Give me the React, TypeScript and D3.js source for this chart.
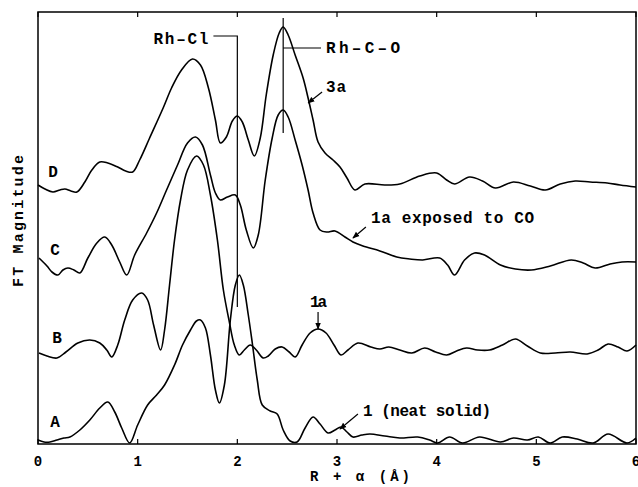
import React from "react";
import * as d3 from "d3";

const W = 638;
const H = 487;

const xTicks = [0, 1, 2, 3, 4, 5, 6];

// FT magnitude traces (R + alpha in Å, magnitude in arbitrary units incl. vertical offset)
const curveA: [number, number][] = [
  [0.0, 0.04], [0.06, 0.02], [0.12, 0.02], [0.19, 0.04], [0.26, 0.06], [0.32, 0.07],
  [0.42, 0.14], [0.52, 0.24], [0.62, 0.36], [0.7, 0.42], [0.77, 0.32], [0.84, 0.16],
  [0.92, 0.01], [1.0, 0.19], [1.1, 0.39], [1.19, 0.49], [1.27, 0.59], [1.37, 0.79],
  [1.45, 0.99], [1.53, 1.14], [1.59, 1.23], [1.63, 1.24], [1.68, 1.16], [1.73, 0.89],
  [1.78, 0.54], [1.82, 0.41], [1.87, 0.59], [1.93, 1.24], [1.98, 1.59], [2.02, 1.69],
  [2.06, 1.59], [2.11, 1.29], [2.15, 1.01], [2.2, 0.64], [2.25, 0.39], [2.33, 0.33],
  [2.4, 0.3], [2.46, 0.14], [2.53, 0.03], [2.6, 0.02], [2.68, 0.16], [2.76, 0.27],
  [2.83, 0.2], [2.91, 0.11], [2.98, 0.14], [3.04, 0.17], [3.1, 0.12], [3.16, 0.07],
  [3.25, 0.09], [3.33, 0.1], [3.48, 0.08], [3.63, 0.06], [3.81, 0.07], [3.93, 0.04],
  [4.01, 0.01], [4.13, 0.07], [4.26, 0.01], [4.43, 0.07], [4.64, 0.02], [4.77, 0.06],
  [4.91, 0.04], [5.02, 0.07], [5.14, 0.01], [5.26, 0.07], [5.41, 0.05], [5.57, 0.01],
  [5.72, 0.1], [5.91, 0.01], [6.0, 0.06],
];

const curveB: [number, number][] = [
  [0.01, 0.91], [0.09, 0.88], [0.19, 0.86], [0.28, 0.92], [0.4, 1.01], [0.52, 1.04],
  [0.62, 1.01], [0.69, 0.94], [0.74, 0.87], [0.8, 0.99], [0.87, 1.24], [0.95, 1.44],
  [1.04, 1.51], [1.1, 1.44], [1.16, 1.19], [1.23, 0.94], [1.27, 1.14], [1.32, 1.59],
  [1.37, 2.04], [1.43, 2.44], [1.5, 2.74], [1.59, 2.88], [1.66, 2.79], [1.73, 2.49],
  [1.8, 2.04], [1.86, 1.54], [1.92, 1.22], [1.97, 0.99], [2.02, 0.89], [2.07, 0.94],
  [2.13, 0.99], [2.19, 0.94], [2.26, 0.86], [2.31, 0.88], [2.38, 0.95], [2.45, 0.97],
  [2.52, 0.92], [2.58, 0.87], [2.65, 0.99], [2.73, 1.11], [2.81, 1.15], [2.89, 1.11],
  [2.97, 0.99], [3.04, 0.89], [3.11, 0.94], [3.21, 1.01], [3.34, 0.97], [3.43, 0.95],
  [3.52, 0.97], [3.63, 0.94], [3.75, 0.91], [3.88, 0.96], [3.99, 0.92], [4.1, 0.89],
  [4.2, 0.93], [4.3, 0.96], [4.41, 0.94], [4.53, 0.94], [4.66, 0.99], [4.79, 1.05],
  [4.91, 0.98], [5.04, 0.91], [5.19, 0.91], [5.34, 0.92], [5.51, 0.9], [5.62, 0.94],
  [5.72, 1.0], [5.82, 0.97], [5.91, 0.93], [6.0, 0.99],
];

const curveC: [number, number][] = [
  [0.01, 1.86], [0.09, 1.78], [0.14, 1.72], [0.2, 1.69], [0.25, 1.74], [0.3, 1.76],
  [0.36, 1.74], [0.42, 1.71], [0.5, 1.86], [0.59, 2.01], [0.67, 2.07], [0.74, 1.99],
  [0.82, 1.82], [0.89, 1.69], [0.97, 1.89], [1.09, 2.11], [1.19, 2.31], [1.29, 2.54],
  [1.4, 2.79], [1.5, 3.01], [1.58, 3.07], [1.65, 2.99], [1.73, 2.69], [1.78, 2.51],
  [1.83, 2.44], [1.9, 2.47], [1.98, 2.49], [2.03, 2.39], [2.09, 2.14], [2.16, 1.96],
  [2.21, 2.09], [2.28, 2.64], [2.35, 3.06], [2.41, 3.29], [2.46, 3.34], [2.51, 3.27],
  [2.58, 3.04], [2.65, 2.79], [2.71, 2.54], [2.76, 2.31], [2.83, 2.14], [2.9, 2.12],
  [2.98, 2.13], [3.08, 2.07], [3.16, 2.02], [3.26, 1.98], [3.43, 1.93], [3.6, 1.87],
  [3.73, 1.85], [3.86, 1.84], [4.03, 1.86], [4.11, 1.79], [4.18, 1.69], [4.28, 1.84],
  [4.38, 1.91], [4.48, 1.89], [4.64, 1.79], [4.79, 1.75], [4.95, 1.74], [5.14, 1.78],
  [5.35, 1.84], [5.47, 1.81], [5.59, 1.76], [5.74, 1.8], [5.86, 1.82], [6.0, 1.82],
];

const curveD: [number, number][] = [
  [0.0, 2.59], [0.07, 2.55], [0.15, 2.52], [0.22, 2.54], [0.27, 2.55], [0.33, 2.53],
  [0.39, 2.52], [0.47, 2.62], [0.54, 2.74], [0.62, 2.82], [0.7, 2.81], [0.8, 2.77],
  [0.88, 2.73], [0.95, 2.72], [1.02, 2.84], [1.12, 3.06], [1.26, 3.37], [1.34, 3.56],
  [1.44, 3.74], [1.55, 3.85], [1.63, 3.79], [1.71, 3.56], [1.78, 3.24], [1.83, 3.01],
  [1.89, 3.07], [1.95, 3.23], [2.0, 3.28], [2.05, 3.22], [2.11, 3.04], [2.17, 2.88],
  [2.23, 3.06], [2.29, 3.49], [2.36, 3.89], [2.42, 4.11], [2.46, 4.17], [2.51, 4.09],
  [2.58, 3.89], [2.66, 3.66], [2.71, 3.46], [2.76, 3.24], [2.81, 3.02], [2.88, 2.91],
  [2.96, 2.84], [3.03, 2.77], [3.1, 2.66], [3.18, 2.54], [3.28, 2.6], [3.48, 2.59],
  [3.63, 2.6], [3.83, 2.68], [4.0, 2.71], [4.1, 2.64], [4.18, 2.6], [4.33, 2.67],
  [4.46, 2.63], [4.59, 2.56], [4.77, 2.62], [4.94, 2.58], [5.09, 2.54], [5.24, 2.6],
  [5.39, 2.63], [5.54, 2.62], [5.71, 2.61], [5.84, 2.59], [6.0, 2.57],
];

const curves = [curveA, curveB, curveC, curveD];
const curveLabels = ["A", "B", "C", "D"];
// label anchor (R, magnitude) for each curve letter
const curveLabelPos: [number, number][] = [
  [0.17, 0.17], [0.19, 1.01], [0.17, 1.89], [0.15, 2.67],
];

const FONT = "'Liberation Mono', 'DejaVu Sans Mono', monospace";

export default function App() {
  const x = d3.scaleLinear().domain([0, 6]).range([38, 636]);
  const y = d3.scaleLinear().domain([0, 4.32]).range([444, 12]);
  const line = d3
    .line<[number, number]>()
    .x((d) => x(d[0]))
    .y((d) => y(d[1]))
    .curve(d3.curveCatmullRom.alpha(0.5));

  const arrow = (x1: number, y1: number, x2: number, y2: number) => (
    <line x1={x(x1)} y1={y(y1)} x2={x(x2)} y2={y(y2)} stroke="#000" strokeWidth={1.2} markerEnd="url(#ah)" />
  );

  return (
    <svg width={W} height={H} style={{ position: "absolute", left: 0, top: 0, background: "#fff" }}>
      <defs>
        <marker id="ah" viewBox="0 0 10 10" refX="9" refY="5" markerWidth="7" markerHeight="7" orient="auto" markerUnits="userSpaceOnUse">
          <path d="M0,1 L10,5 L0,9 Z" fill="#000" />
        </marker>
      </defs>
      {/* frame */}
      <rect x={x(0)} y={y(4.32)} width={x(6) - x(0)} height={y(0) - y(4.32)} fill="none" stroke="#000" strokeWidth={1.5} />
      {/* ticks */}
      {xTicks.map((t) => (
        <g key={t}>
          <line x1={x(t)} x2={x(t)} y1={y(0)} y2={y(0) - 5} stroke="#000" strokeWidth={1.2} />
          <line x1={x(t)} x2={x(t)} y1={y(4.32)} y2={y(4.32) + 5} stroke="#000" strokeWidth={1.2} />
          <text x={x(t)} y={466} textAnchor="middle" fontFamily={FONT} fontWeight="bold" fontSize={14}>
            {t}
          </text>
        </g>
      ))}
      {/* axis titles */}
      <text x={310} y={481} fontFamily={FONT} fontWeight="bold" fontSize={14} textLength={100} lengthAdjust="spacing">
        R + α (Å)
      </text>
      <text
        transform="translate(23,221) rotate(-90)"
        textAnchor="middle"
        fontFamily={FONT}
        fontWeight="bold"
        fontSize={15}
        textLength={132}
        lengthAdjust="spacing"
      >
        FT Magnitude
      </text>
      {/* curves */}
      {curves.map((c, i) => (
        <path key={i} d={line(c) || ""} fill="none" stroke="#000" strokeWidth={1.6} strokeLinejoin="round" />
      ))}
      {curveLabels.map((l, i) => (
        <text key={l} x={x(curveLabelPos[i][0])} y={y(curveLabelPos[i][1])} textAnchor="middle" fontFamily={FONT} fontWeight="bold" fontSize={16}>
          {l}
        </text>
      ))}
      {/* Rh-Cl marker */}
      <path d={`M${x(1.76)},${y(4.08)} H${x(2.0)} V${y(1.37)}`} fill="none" stroke="#000" strokeWidth={1.2} />
      <text x={x(1.71)} y={44} textAnchor="end" fontFamily={FONT} fontWeight="bold" fontSize={16} textLength={55} lengthAdjust="spacing">
        Rh–Cl
      </text>
      {/* Rh-C-O marker */}
      <line x1={x(2.46)} x2={x(2.46)} y1={y(4.26)} y2={y(3.11)} stroke="#000" strokeWidth={1.2} />
      <line x1={x(2.46)} x2={x(2.84)} y1={y(3.96)} y2={y(3.96)} stroke="#000" strokeWidth={1.2} />
      <text x={326} y={53} fontFamily={FONT} fontWeight="bold" fontSize={16} textLength={74} lengthAdjust="spacing">
        Rh–C–O
      </text>
      {/* annotations */}
      {arrow(2.85, 3.52, 2.71, 3.41)}
      <text x={326} y={92} fontFamily={FONT} fontWeight="bold" fontSize={16} textLength={20} lengthAdjust="spacing">
        3a
      </text>
      {arrow(3.29, 2.17, 3.16, 2.06)}
      <text x={371} y={223} fontFamily={FONT} fontWeight="bold" fontSize={16} textLength={163} lengthAdjust="spacing">
        1a exposed to CO
      </text>
      {arrow(2.81, 1.32, 2.81, 1.15)}
      <text x={310} y={307} fontFamily={FONT} fontWeight="bold" fontSize={16} textLength={17} lengthAdjust="spacing">
        1a
      </text>
      {arrow(3.21, 0.3, 3.03, 0.15)}
      <text x={363} y={416} fontFamily={FONT} fontWeight="bold" fontSize={16} textLength={128} lengthAdjust="spacing">
        1 (neat solid)
      </text>
    </svg>
  );
}
